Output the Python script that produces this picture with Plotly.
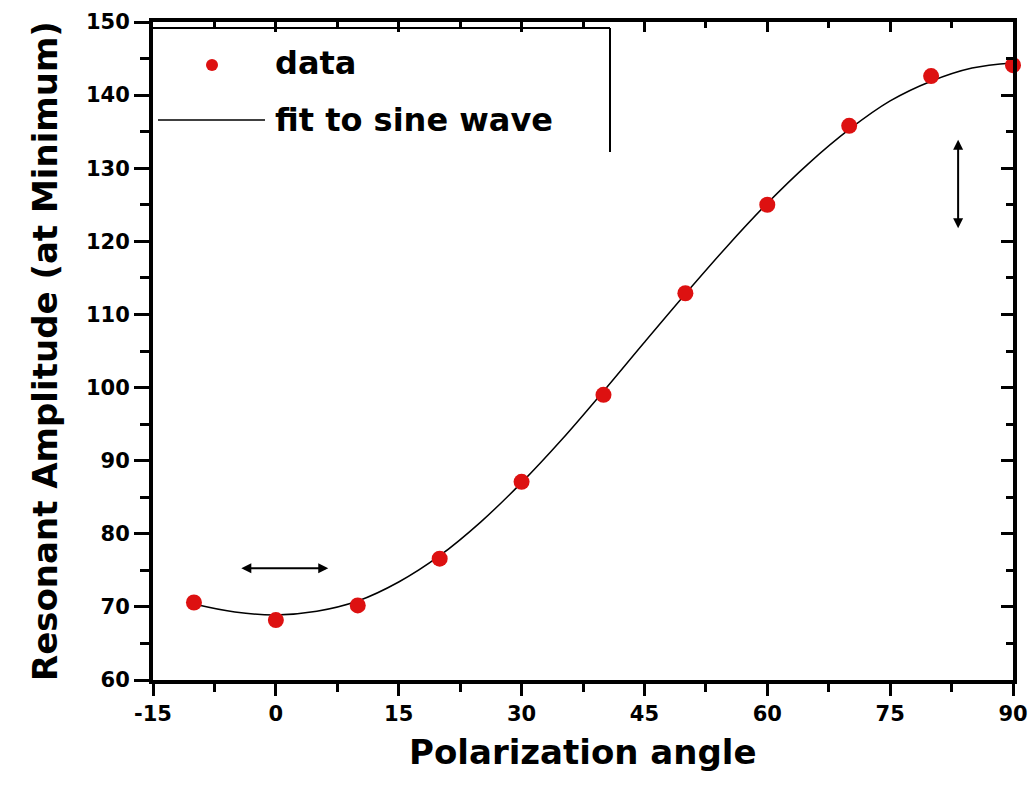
import plotly.graph_objects as go

# data points
angles = [-10, 0, 10, 20, 30, 40, 50, 60, 70, 80, 90]
amplitude = [70.6, 68.2, 70.2, 76.6, 87.1, 99.0, 112.9, 125.0, 135.8, 142.6, 144.1]

# fit curve
fit_angles = [-10, -5, 0, 5, 10, 15, 20, 25, 30, 35, 40, 45, 50, 55, 60, 65, 70, 75, 80, 85, 90]
fit_values = [70.4, 69.3, 68.9, 69.4, 70.8, 73.4, 77.0, 81.6, 87.0, 93.0, 99.5, 106.2,
              112.8, 119.2, 125.2, 130.6, 135.3, 139.2, 141.9, 143.7, 144.4]

x_ticks = [-15, 0, 15, 30, 45, 60, 75, 90]
y_ticks = [60, 70, 80, 90, 100, 110, 120, 130, 140, 150]

FONT = "DejaVu Sans, Verdana, sans-serif"

fig = go.Figure()
fig.add_trace(go.Scatter(x=fit_angles, y=fit_values, mode="lines",
                         line=dict(color="black", width=1.5, shape="spline"),
                         showlegend=False, hoverinfo="skip"))
fig.add_trace(go.Scatter(x=angles, y=amplitude, mode="markers",
                         marker=dict(color="#dd1111", size=16, line=dict(width=0)),
                         showlegend=False, cliponaxis=False))
# invisible trace to activate mirror axes
fig.add_trace(go.Scatter(x=angles, y=amplitude, mode="markers", xaxis="x2", yaxis="y2",
                         marker=dict(opacity=0), showlegend=False, hoverinfo="skip"))

tickfont = dict(family=FONT, size=21, color="black", weight="bold")
AX = dict(showgrid=False, zeroline=False, showline=True, linecolor="black", linewidth=4,
          tickwidth=3, tickcolor="black", automargin=False, fixedrange=True)

fig.update_layout(
    width=1029, height=793,
    margin=dict(l=153, r=16, t=22, b=113, autoexpand=False),
    paper_bgcolor="white", plot_bgcolor="white",
    xaxis=dict(range=[-15, 90], tickvals=x_ticks, ticktext=[str(v) for v in x_ticks],
               ticks="outside", ticklen=12, tickfont=tickfont,
               minor=dict(ticks="outside", dtick=7.5, tick0=-15, ticklen=8, tickwidth=3, tickcolor="black"),
               **AX),
    yaxis=dict(range=[60, 150], tickvals=y_ticks, ticks="outside", ticklen=15, tickfont=tickfont,
               minor=dict(ticks="outside", dtick=5, tick0=60, ticklen=9, tickwidth=3, tickcolor="black"),
               **AX),
    xaxis2=dict(range=[-15, 90], overlaying="x", side="top", anchor="y", tickvals=x_ticks,
                showticklabels=False, ticks="inside", ticklen=10,
                minor=dict(ticks="inside", dtick=7.5, tick0=-15, ticklen=6, tickwidth=3, tickcolor="black"),
                **AX),
    yaxis2=dict(range=[60, 150], overlaying="y", side="right", anchor="x", tickvals=y_ticks,
                showticklabels=False, ticks="inside", ticklen=12,
                minor=dict(ticks="inside", dtick=5, tick0=60, ticklen=7, tickwidth=3, tickcolor="black"),
                **AX),
)

titlefont = dict(family=FONT, size=34, color="black", weight="bold")
legfont = dict(family=FONT, size=32, color="black", weight="bold")
annotations = [
    dict(text="Polarization angle", xref="paper", yref="paper", x=0.5, y=-0.109,
         xanchor="center", yanchor="middle", showarrow=False, font=titlefont),
    dict(text="Resonant Amplitude (at Minimum)", xref="paper", yref="paper", x=-0.1256, y=0.5,
         xanchor="center", yanchor="middle", textangle=-90, showarrow=False, font=titlefont),
    # legend texts
    dict(text="data", xref="paper", yref="paper", x=(273 - 153) / 860, y=(680 - 63) / 658,
         xanchor="left", yanchor="middle", showarrow=False, font=legfont),
    dict(text="fit to sine wave", xref="paper", yref="paper", x=(273 - 153) / 860, y=(680 - 120) / 658,
         xanchor="left", yanchor="middle", showarrow=False, font=legfont),
    # double arrows
    dict(x=6.4, y=75.3, ax=-4.4, ay=75.3, xref="x", yref="y", axref="x", ayref="y",
         text="", showarrow=True, arrowhead=2, arrowside="end+start", arrowwidth=2, arrowsize=1,
         arrowcolor="black"),
    dict(x=83.3, y=121.8, ax=83.3, ay=134.1, xref="x", yref="y", axref="x", ayref="y",
         text="", showarrow=True, arrowhead=2, arrowside="end+start", arrowwidth=2, arrowsize=1,
         arrowcolor="black"),
]
fig.update_layout(annotations=annotations)

shapes = [
    dict(type="line", xref="paper", yref="paper", x0=0, x1=(610 - 153) / 860,
         y0=(680 - 28) / 658, y1=(680 - 28) / 658, line=dict(color="black", width=2)),
    dict(type="line", xref="paper", yref="paper", x0=(610 - 153) / 860, x1=(610 - 153) / 860,
         y0=(680 - 28) / 658, y1=(680 - 152) / 658, line=dict(color="black", width=2)),
    dict(type="line", xref="paper", yref="paper", x0=(158 - 153) / 860, x1=(265 - 153) / 860,
         y0=(680 - 120) / 658, y1=(680 - 120) / 658, line=dict(color="black", width=1.5)),
    dict(type="circle", xref="paper", yref="paper", xsizemode="pixel", ysizemode="pixel",
         xanchor=(212 - 153) / 860, yanchor=(680 - 65) / 658, x0=-6, x1=6, y0=-6, y1=6,
         fillcolor="#dd1111", line=dict(width=0)),
]
fig.update_layout(shapes=shapes)

fig.write_html("out.html")
